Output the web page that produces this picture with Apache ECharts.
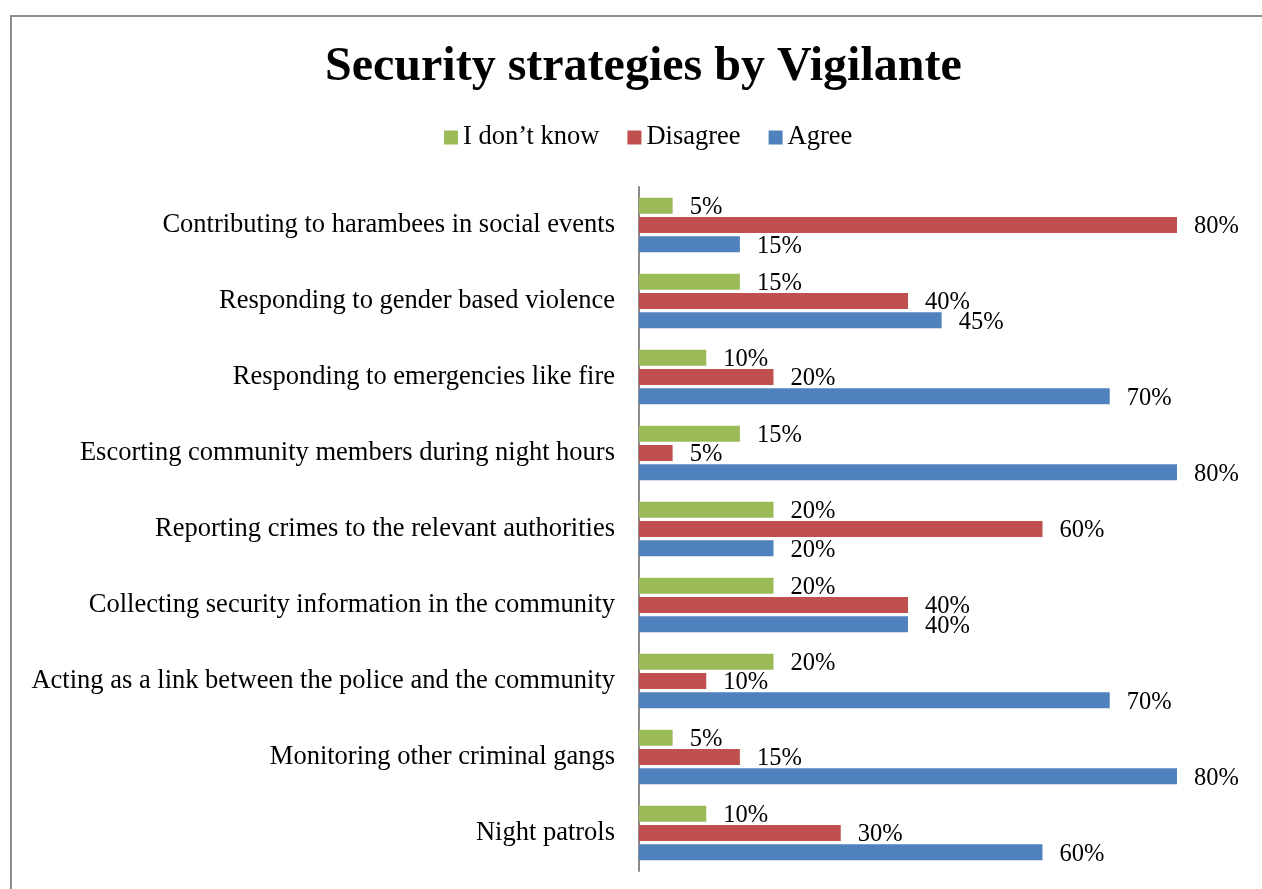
<!DOCTYPE html>
<html>
<head>
<meta charset="utf-8">
<script src="https://cdn.jsdelivr.net/npm/echarts@6/dist/echarts.min.js"></script>
<style>
  html, body { margin: 0; padding: 0; background: #fff; }
  #chart { width: 1262px; height: 889px; }
</style>
</head>
<body>
<div id="chart"></div>
<script>
// Strategies, listed top to bottom
const categories = [
  'Contributing to harambees in social events',
  'Responding to gender based violence',
  'Responding to emergencies like fire',
  'Escorting community members during night hours',
  'Reporting crimes to the relevant authorities',
  'Collecting security information in the community',
  'Acting as a link between the police and the community',
  'Monitoring other criminal gangs',
  'Night patrols'
];
// Percentage of respondents per answer
const dontKnow = [5, 15, 10, 15, 20, 20, 20, 5, 10];
const disagree = [80, 40, 20, 5, 60, 40, 10, 15, 30];
const agree    = [15, 45, 70, 80, 20, 40, 70, 80, 60];

const seriesNames = ['I don\u2019t know', 'Disagree', 'Agree'];
const seriesColors = ['#9BBB59', '#C0504D', '#4F81BD'];
const seriesData = [dontKnow, disagree, agree];

const serif = '"Liberation Serif", "Times New Roman", serif';

const chart = echarts.init(document.getElementById('chart'), null, { renderer: 'canvas' });

chart.setOption({
  backgroundColor: '#fff',
  animation: false,
  textStyle: { fontFamily: serif },
  title: {
    text: 'Security strategies by Vigilante',
    left: 325,
    top: 44,
    padding: 0,
    textStyle: { fontFamily: serif, fontSize: 48, fontWeight: 'bold', color: '#000' }
  },
  legend: {
    data: seriesNames,
    left: 444,
    top: 124,
    padding: 0,
    icon: 'rect',
    itemWidth: 14,
    itemHeight: 14,
    itemGap: 28,
    textStyle: { fontFamily: serif, fontSize: 26.5, color: '#000' }
  },
  graphic: [{
    type: 'rect',
    shape: { x: 11, y: 16, width: 1300, height: 900 },
    style: { fill: 'none', stroke: '#8c8c8c', lineWidth: 2 },
    silent: true
  }],
  grid: { left: 639, right: 85, top: 187, bottom: 18, containLabel: false },
  xAxis: {
    type: 'value',
    min: 0,
    max: 80,
    show: false
  },
  yAxis: {
    type: 'category',
    data: categories,
    inverse: true,
    axisLine: { show: true, lineStyle: { color: '#8c8c8c', width: 2 } },
    axisTick: { show: false },
    axisLabel: { fontFamily: serif, fontSize: 26.5, color: '#000', margin: 24 }
  },
  series: seriesNames.map((name, i) => ({
    name: name,
    type: 'bar',
    data: seriesData[i],
    barWidth: 16,
    barGap: '20%',
    itemStyle: { color: seriesColors[i] },
    label: {
      show: true,
      position: 'right',
      distance: 17,
      formatter: '{c}%',
      fontFamily: serif,
      fontSize: 24.5,
      color: '#000',
      offset: [0, 2]
    }
  }))
});
</script>
</body>
</html>
